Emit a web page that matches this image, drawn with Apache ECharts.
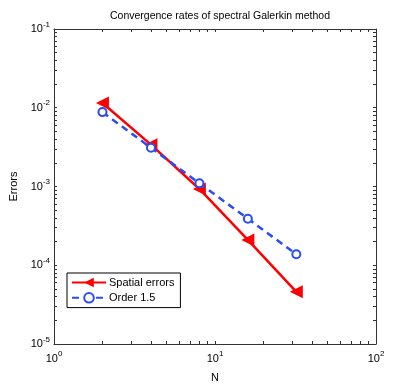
<!DOCTYPE html>
<html>
<head>
<meta charset="utf-8">
<script src="https://cdn.jsdelivr.net/npm/echarts@6/dist/echarts.min.js"></script>
<style>
  html, body { margin: 0; padding: 0; background: #fff; }
  #chart { width: 415px; height: 388px; }
</style>
</head>
<body>
<div id="chart"></div>
<script>
// data
const sizes = [2, 4, 8, 16, 32];
const spatialErrors = [0.0115, 0.0034, 0.00093, 0.00021, 0.000046];
const orderRef = [0.0088, 0.0031, 0.0011, 0.00039, 0.000138];

const xTicks = [1, 2, 3, 4, 5, 6, 7, 8, 9, 10, 20, 30, 40, 50, 60, 70, 80, 90, 100];
const yTicks = [];
for (let e = -5; e < -1; e++) {
  for (let m = 1; m < 10; m++) yTicks.push(m * Math.pow(10, e));
}
yTicks.push(0.1);
const xLabels = [1, 10, 100];
const yLabels = [1e-5, 1e-4, 1e-3, 1e-2, 1e-1];

const FONT = "'Liberation Sans', Arial, sans-serif";
const AXIS_COLOR = "#333";
const RED = "#ff0000";
const BLUE = "#2a4cf5";

function powerLabel(value) {
  const exp = Math.round(Math.log10(value));
  return `{b|10}{e|${exp}}`;
}

const labelRich = {
  b: { fontSize: 11, fontFamily: FONT, color: "#000" },
  e: { fontSize: 8, fontFamily: FONT, color: "#000", padding: [0, 0, 9, 0] },
};

function logAxis(extra) {
  return Object.assign(
    {
      type: "log",
      logBase: 10,
      axisLine: { show: true, lineStyle: { color: AXIS_COLOR, width: 1 } },
      splitLine: { show: false },
    },
    extra,
  );
}

function ticks(values) {
  return { show: true, inside: true, length: 3, lineStyle: { color: AXIS_COLOR }, customValues: values };
}

const chart = echarts.init(document.getElementById("chart"));

chart.setOption({
  animation: false,
  title: {
    text: "Convergence rates of spectral Galerkin method",
    left: 215,
    textAlign: "center",
    top: 6,
    textStyle: { fontSize: 10.5, fontWeight: "normal", fontFamily: FONT, color: "#000" },
  },
  grid: { left: 54, right: 39, top: 29, bottom: 44 },
  legend: {
    orient: "vertical",
    left: 67,
    top: 273,
    padding: [4, 6, 4, 4],
    itemGap: 4,
    itemWidth: 34,
    itemHeight: 12,
    borderColor: "#000",
    borderWidth: 1,
    backgroundColor: "#fff",
    textStyle: { fontSize: 11, fontFamily: FONT, color: "#000", padding: [0, 0, 0, -2] },
    data: ["Spatial errors", "Order 1.5"],
  },
  xAxis: [
    logAxis({
      min: 1,
      max: 100,
      position: "bottom",
      name: "N",
      nameLocation: "middle",
      nameGap: 28,
      nameTextStyle: { fontSize: 11, fontFamily: FONT, color: "#000" },
      axisTick: ticks(xTicks),
      axisLabel: { customValues: xLabels, formatter: powerLabel, rich: labelRich, margin: 6 },
    }),
    logAxis({
      min: 1,
      max: 100,
      position: "top",
      axisTick: ticks(xTicks),
      axisLabel: { show: false },
    }),
  ],
  yAxis: [
    logAxis({
      min: 1e-5,
      max: 1e-1,
      position: "left",
      name: "Errors",
      nameLocation: "middle",
      nameGap: 31,
      nameTextStyle: { fontSize: 11, fontFamily: FONT, color: "#000" },
      axisTick: ticks(yTicks),
      axisLabel: { customValues: yLabels, formatter: powerLabel, rich: labelRich, margin: 4 },
    }),
    logAxis({
      min: 1e-5,
      max: 1e-1,
      position: "right",
      axisTick: ticks(yTicks),
      axisLabel: { show: false },
    }),
  ],
  series: [
    {
      name: "Spatial errors",
      type: "line",
      xAxisIndex: 0,
      yAxisIndex: 0,
      data: sizes.map((n, i) => [n, spatialErrors[i]]),
      symbol: "triangle",
      symbolRotate: 90,
      symbolSize: 13,
      showAllSymbol: true,
      color: RED,
      lineStyle: { color: RED, width: 2.5 },
      itemStyle: { color: RED },
      z: 3,
    },
    {
      name: "Order 1.5",
      type: "line",
      xAxisIndex: 0,
      yAxisIndex: 0,
      data: sizes.map((n, i) => [n, orderRef[i]]),
      symbol: "emptyCircle",
      symbolSize: 8,
      showAllSymbol: true,
      color: BLUE,
      lineStyle: { color: BLUE, width: 2.5, type: [7, 5] },
      itemStyle: { color: BLUE, borderColor: BLUE, borderWidth: 2.5, borderType: "solid" },
      z: 4,
    },
  ],
});
</script>
</body>
</html>
